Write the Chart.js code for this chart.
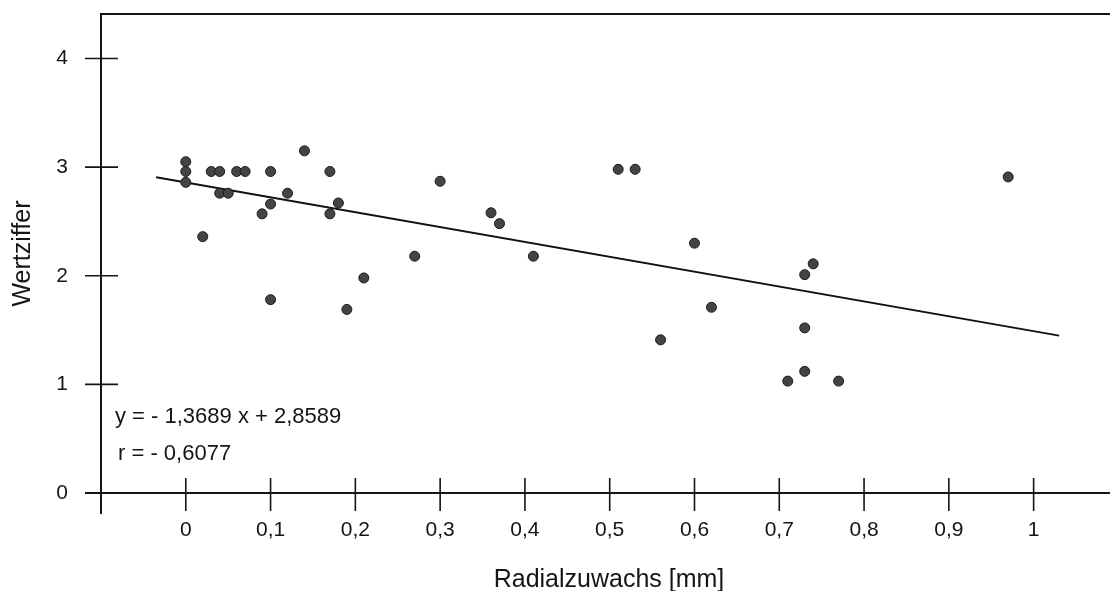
<!DOCTYPE html>
<html>
<head>
<meta charset="utf-8">
<script src="https://cdn.jsdelivr.net/npm/chart.js@4"></script>
<style>
  html, body { margin: 0; padding: 0; background: #fff; }
  #wrap { width: 1110px; height: 591px; }
</style>
</head>
<body>
<div id="wrap"><canvas id="chart" width="1110" height="591"></canvas></div>
<script>
// Radialzuwachs [mm] vs Wertziffer
const radialGrowth = [0, 0, 0, 0.02, 0.03, 0.04, 0.04, 0.05, 0.06, 0.07, 0.09, 0.1, 0.1, 0.1, 0.12, 0.14, 0.17, 0.17, 0.18, 0.19,
  0.21, 0.27, 0.3, 0.36, 0.37, 0.41, 0.51, 0.53, 0.56, 0.6, 0.62, 0.71, 0.73, 0.73, 0.73, 0.74, 0.77, 0.97];
const valueScore = [3.05, 2.96, 2.86, 2.36, 2.96, 2.96, 2.76, 2.76, 2.96, 2.96, 2.57, 2.96, 2.66, 1.78, 2.76, 3.15, 2.96, 2.57, 2.67, 1.69,
  1.98, 2.18, 2.87, 2.58, 2.48, 2.18, 2.98, 2.98, 1.41, 2.30, 1.71, 1.03, 2.01, 1.52, 1.12, 2.11, 1.03, 2.91];

const xTicks = [0, 0.1, 0.2, 0.3, 0.4, 0.5, 0.6, 0.7, 0.8, 0.9, 1];
const yTicks = [0, 1, 2, 3, 4];

const slope = -1.3689;
const intercept = 2.8589;
const lineRange = [-0.035, 1.03];
const equationLines = ['y = - 1,3689 x + 2,8589', 'r = - 0,6077'];

const FONT = '"Liberation Sans", Arial, Helvetica, sans-serif';

const points = radialGrowth.map((x, i) => ({ x: x, y: valueScore[i] }));
const trend = lineRange.map(x => ({ x: x, y: slope * x + intercept }));

// axes, crossing ticks, frame line and texts
const frame = {
  id: 'frame',
  beforeDatasetsDraw(chart) {
    const { ctx, chartArea, scales } = chart;
    const xs = scales.x, ys = scales.y;
    const y0 = ys.getPixelForValue(0);
    const xl = xs.getPixelForValue(-0.1);
    ctx.save();
    ctx.strokeStyle = '#151515';
    ctx.lineWidth = 2;
    ctx.beginPath();
    ctx.moveTo(xl, chartArea.top);
    ctx.lineTo(xl, y0 + 21);
    ctx.moveTo(xl - 1, chartArea.top);
    ctx.lineTo(chart.width, chartArea.top);
    ctx.moveTo(xl - 16, y0);
    ctx.lineTo(chart.width, y0);
    ctx.stroke();

    ctx.lineWidth = 1.6;
    ctx.beginPath();
    yTicks.forEach(v => {
      const py = ys.getPixelForValue(v);
      ctx.moveTo(xl - 16, py);
      ctx.lineTo(xl + 17, py);
    });
    xTicks.forEach(v => {
      const px = xs.getPixelForValue(v);
      ctx.moveTo(px, y0 - 15);
      ctx.lineTo(px, y0 + 18);
    });
    ctx.stroke();

    ctx.fillStyle = '#151515';
    ctx.font = '22px ' + FONT;
    ctx.textBaseline = 'alphabetic';
    ctx.textAlign = 'left';
    ctx.fillText(equationLines[0], 115, 423);
    ctx.fillText(equationLines[1], 118, 460);

    ctx.font = '25px ' + FONT;
    ctx.textAlign = 'center';
    ctx.fillText('Radialzuwachs [mm]', 609, 587);

    ctx.translate(30, (chartArea.top + chartArea.bottom) / 2);
    ctx.rotate(-Math.PI / 2);
    ctx.fillText('Wertziffer', 0, 0);
    ctx.restore();
  }
};

new Chart(document.getElementById('chart'), {
  type: 'scatter',
  data: {
    datasets: [
      {
        label: 'Wertziffer',
        data: points,
        pointRadius: 5,
        pointBackgroundColor: '#444',
        pointBorderColor: '#1a1a1a',
        pointBorderWidth: 1
      },
      {
        type: 'line',
        label: 'Regression',
        data: trend,
        borderColor: '#111',
        borderWidth: 2,
        pointRadius: 0,
        fill: false
      }
    ]
  },
  options: {
    responsive: false,
    animation: false,
    layout: { padding: { top: 14, left: 0, right: 0, bottom: 0 } },
    plugins: { legend: { display: false }, tooltip: { enabled: false } },
    scales: {
      x: {
        type: 'linear',
        min: -0.1,
        max: 1.083,
        afterBuildTicks: s => { s.ticks = xTicks.map(v => ({ value: v })); },
        afterFit: s => { s.height = 98; },
        grid: { display: false, drawTicks: true, tickLength: 25 },
        border: { display: false },
        ticks: {
          autoSkip: false,
          maxRotation: 0,
          padding: 0,
          color: '#151515',
          font: { family: FONT, size: 21 },
          callback: v => String(v).replace('.', ',')
        }
      },
      y: {
        min: 0,
        max: 4.41,
        afterBuildTicks: s => { s.ticks = yTicks.map(v => ({ value: v })); },
        afterFit: s => { s.width = 101; },
        grid: { display: false, drawTicks: true, tickLength: 33 },
        border: { display: false },
        ticks: {
          padding: 0,
          color: '#151515',
          font: { family: FONT, size: 21 }
        }
      }
    }
  },
  plugins: [frame]
});
</script>
</body>
</html>
